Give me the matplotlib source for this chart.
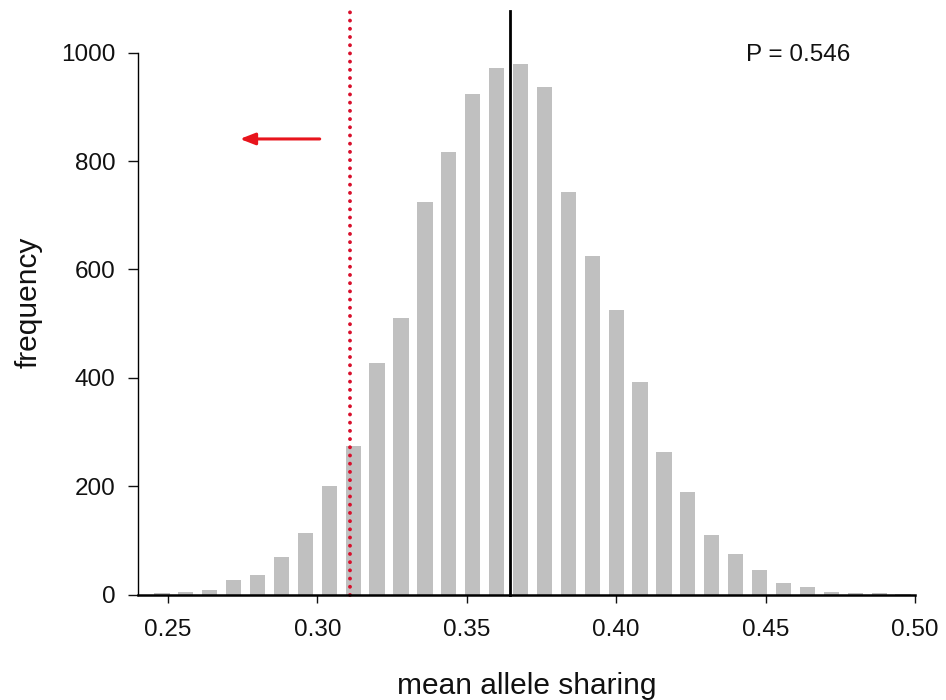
import matplotlib
matplotlib.use("Agg")
import matplotlib.pyplot as plt

# === DATOS === #
bin_centers = [0.248, 0.256, 0.264, 0.272, 0.280, 0.288, 0.296, 0.304,
               0.312, 0.320, 0.328, 0.336, 0.344, 0.352, 0.360, 0.368,
               0.376, 0.384, 0.392, 0.400, 0.408, 0.416, 0.424, 0.432,
               0.440, 0.448, 0.456, 0.464, 0.472, 0.480, 0.488, 0.496]
frequencies = [2, 5, 8, 26, 36, 70, 114, 200,
               275, 428, 511, 724, 817, 924, 972, 980,
               936, 743, 624, 526, 392, 264, 189, 110,
               74, 45, 22, 13, 5, 3, 2, 1]
x_ticks = [0.25, 0.30, 0.35, 0.40, 0.45, 0.50]
x_tick_labels = ["0.25", "0.30", "0.35", "0.40", "0.45", "0.50"]
y_ticks = [0, 200, 400, 600, 800, 1000]

mean_sharing = 0.3645      # media de la distribucion (linea negra)
observed_sharing = 0.311   # valor observado (linea roja punteada)
p_value_text = "P = 0.546"

plt.rcParams["font.family"] = ["Liberation Sans", "DejaVu Sans"]

fig = plt.figure(figsize=(9.46, 7.0), dpi=100)
ax = fig.add_axes([138 / 946, (700 - 594.5) / 700, (915 - 138) / 946, 585 / 700])

ax.bar(bin_centers, frequencies, width=0.0051, color="#c0c0c0", zorder=1)

# lineas verticales
ax.plot([mean_sharing, mean_sharing], [0, 1078], color="black", lw=2.0,
        zorder=3, clip_on=False)
ax.plot([observed_sharing, observed_sharing], [0, 1076], color="#d8102c",
        lw=2.8, linestyle=(0, (0.01, 2.1)), dash_capstyle="round",
        zorder=3, clip_on=False)

# flecha roja
ax.annotate("", xy=(0.2741, 841), xytext=(0.3008, 841),
            arrowprops=dict(arrowstyle="-|>,head_length=0.9,head_width=0.35",
                            color="#e8141c", lw=2.2, mutation_scale=10,
                            shrinkA=0, shrinkB=0))

ax.text(0.461, 996, p_value_text, ha="center", va="center", fontsize=17.5,
        color="#111111")

ax.set_xlim(0.24, 0.50)
ax.set_ylim(0, 1080)
ax.set_xticks(x_ticks)
ax.set_xticklabels(x_tick_labels)
ax.set_yticks(y_ticks)

for side in ["top", "right"]:
    ax.spines[side].set_visible(False)
ax.spines["left"].set_bounds(0, 1000)
ax.spines["left"].set_linewidth(1.0)
ax.spines["bottom"].set_linewidth(1.8)
ax.spines["bottom"].set_zorder(4)

ax.tick_params(axis="x", direction="out", length=6, width=1.0, pad=12,
               labelsize=17.5, colors="#111111")
ax.tick_params(axis="y", direction="out", length=7.2, width=1.0, pad=9,
               labelsize=17.5, colors="#111111")

ax.set_xlabel("mean allele sharing", fontsize=21.5, color="#111111", labelpad=22)
ax.set_ylabel("frequency", fontsize=21.5, color="#111111", labelpad=13)

fig.savefig("out.png", dpi=100)
plt.close(fig)
